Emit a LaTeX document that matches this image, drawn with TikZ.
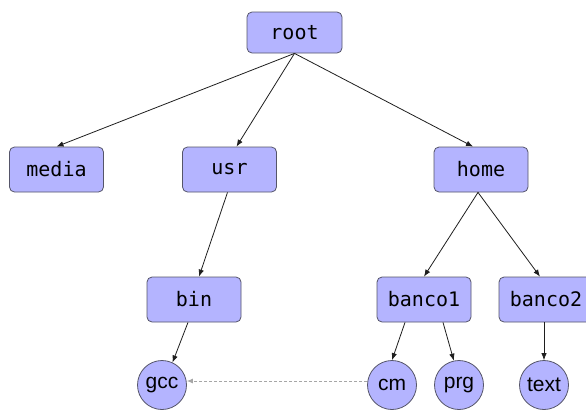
\documentclass[tikz,border=0pt]{standalone}
\usepackage{fontspec}
\setmainfont{Liberation Sans}
\newfontfamily\boxmono{DejaVu Sans Mono}
\usetikzlibrary{arrows.meta}
\definecolor{boxfill}{RGB}{180,180,255}
\definecolor{boxline}{RGB}{85,85,105}
\definecolor{edgecol}{RGB}{30,30,30}
\tikzset{
  dirbox/.style={draw=boxline, line width=0.8pt, fill=boxfill, rounded corners=5pt,
    minimum width=94pt, minimum height=45pt, inner sep=0pt,
    font=\boxmono\fontsize{20}{24}\selectfont},
  filenode/.style={draw=boxline, line width=0.8pt, fill=boxfill, circle,
    minimum size=49pt, inner sep=0pt, font=\fontsize{21}{24}\selectfont},
  edge/.style={draw=edgecol, line width=0.8pt, -{Latex[length=7pt,width=5.5pt]}},
  linkedge/.style={draw=gray!70, line width=0.8pt, dash pattern=on 3pt off 2pt,
    -{Latex[length=6pt,width=5pt]}}
}
\begin{document}
\begin{tikzpicture}[x=1pt,y=-1pt]
\useasboundingbox (0,0) rectangle (586,410);
\node[dirbox, minimum height=41pt, minimum width=95pt] (root) at (294.5,32.5) {root};
\node[dirbox] (media) at (56.5,169.5) {media};
\node[dirbox] (usr) at (229.5,169.5) {usr};
\node[dirbox] (home) at (481,169.5) {home};
\node[dirbox] (bin) at (194,299.5) {bin};
\node[dirbox] (banco1) at (424,299.5) {banco1};
\node[dirbox] (banco2) at (546,299.5) {banco2};
\node[filenode] (gcc) at (162,385) {gcc};
\node[filenode] (cm) at (392,385) {cm};
\node[filenode] (prg) at (459,385) {prg};
\node[filenode] (text) at (544,385) {text};

\draw[edge] (root.south) -- (media.north);
\draw[edge] (root.south) -- ([xshift=7pt]usr.north);
\draw[edge] (root.south) -- ([xshift=-8pt]home.north);
\draw[edge] ([xshift=-2pt]usr.south) -- ([xshift=5pt]bin.north);
\draw[edge] ([xshift=-6pt]bin.south) -- (gcc.65);
\draw[edge] ([xshift=-3pt]home.south) -- (banco1.north);
\draw[edge] ([xshift=-3pt]home.south) -- ([xshift=-6pt]banco2.north);
\draw[edge] ([xshift=-19pt]banco1.south) -- (cm.north);
\draw[edge] ([xshift=19pt]banco1.south) -- (prg.102);
\draw[edge] (text.north |- banco2.south) -- (text.north);
\draw[linkedge] ([yshift=4pt]cm.west) -- ([yshift=4pt]gcc.east);
\end{tikzpicture}
\end{document}
